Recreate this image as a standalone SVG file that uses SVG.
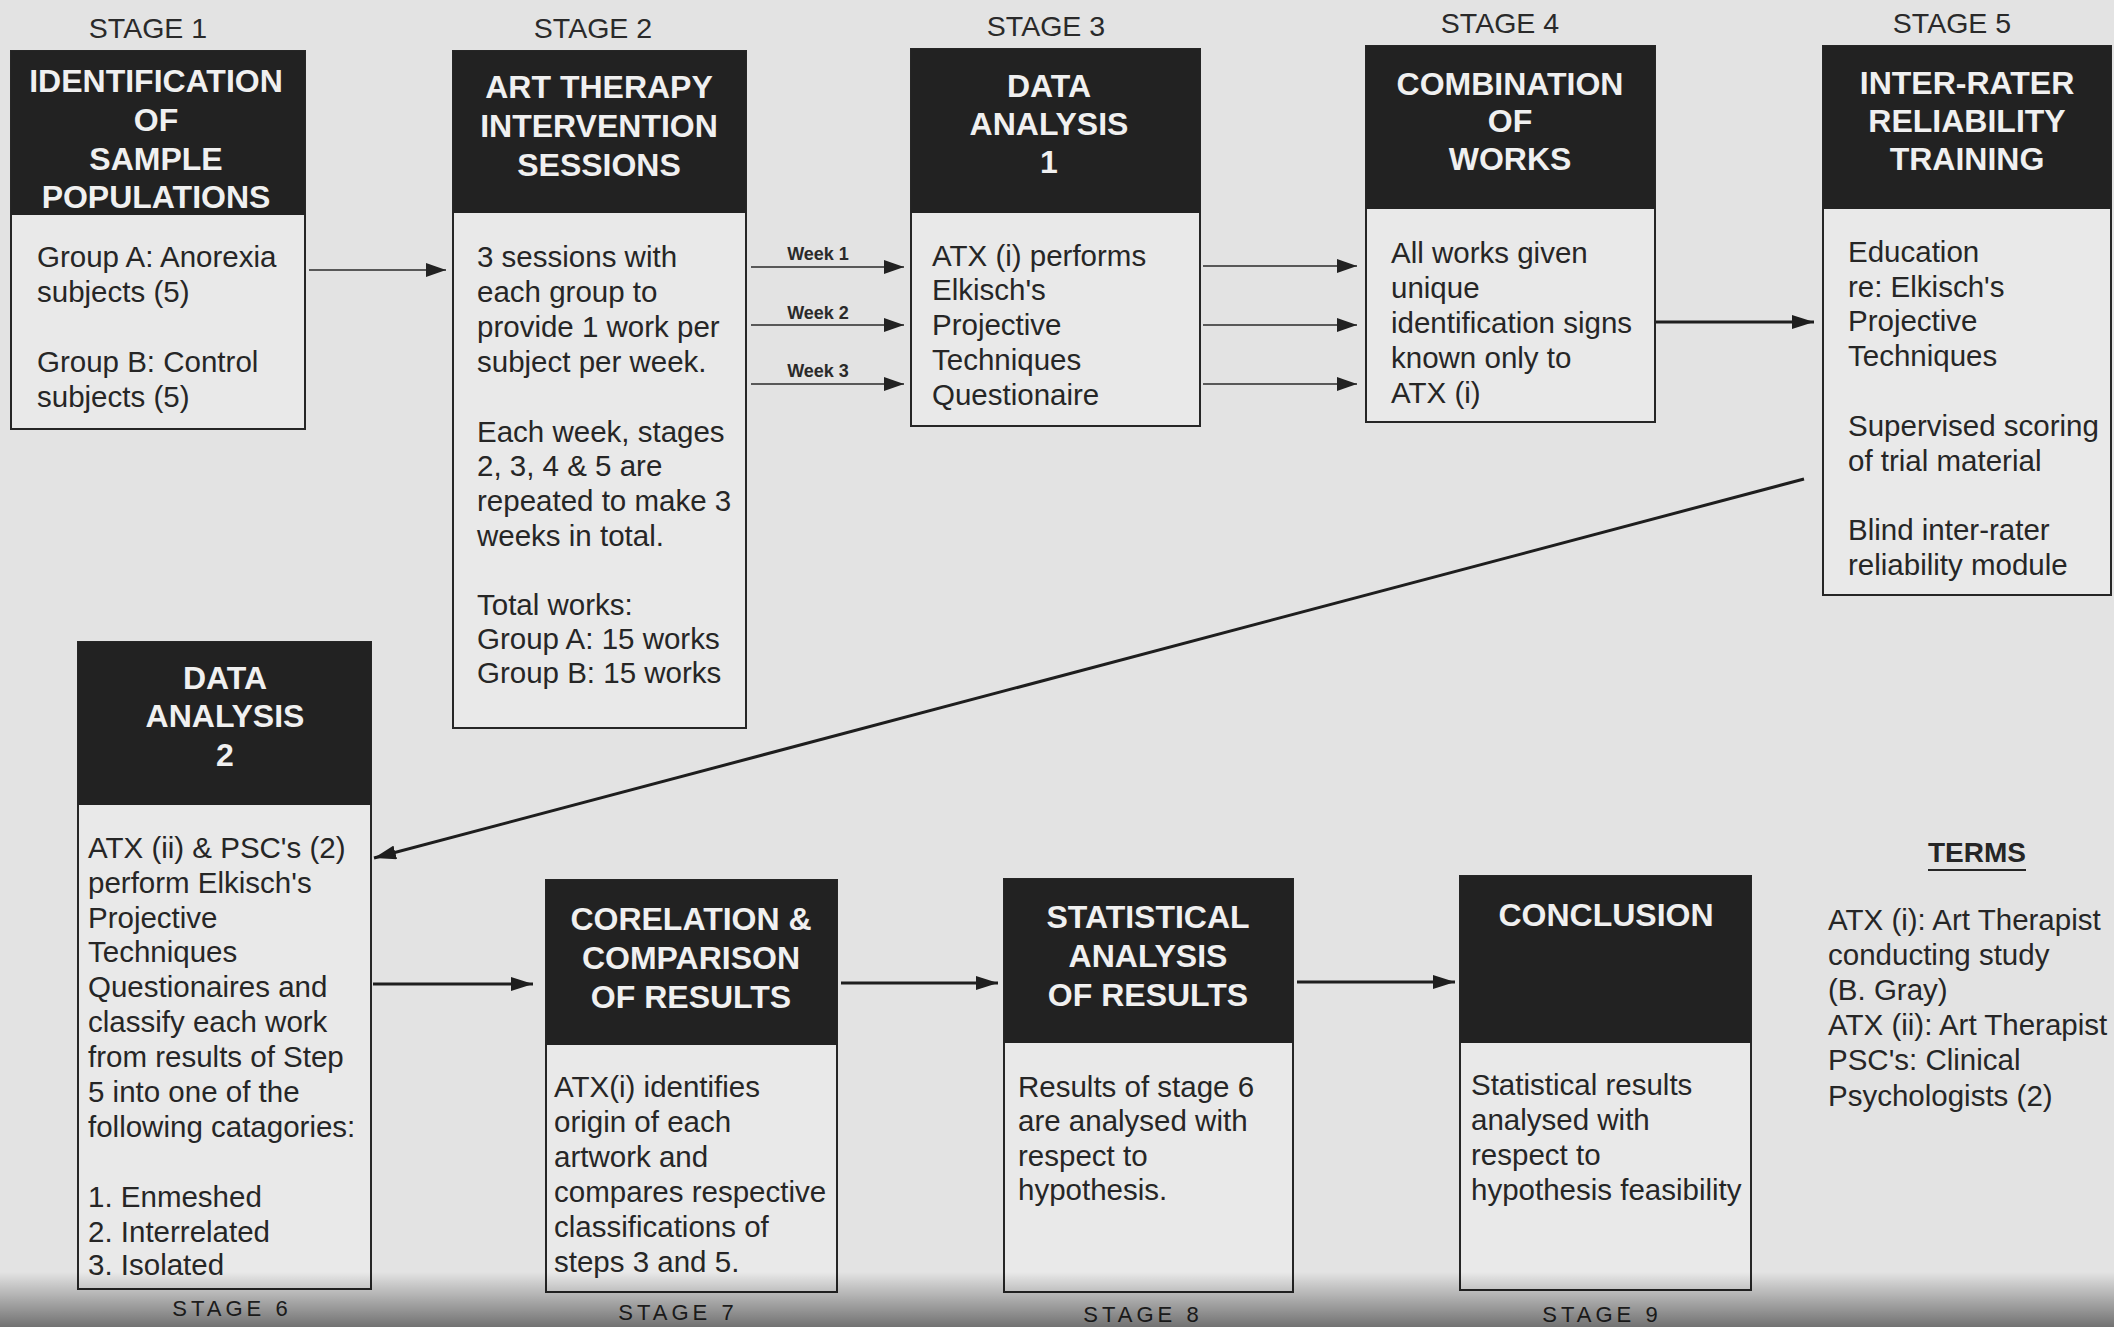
<svg xmlns="http://www.w3.org/2000/svg" width="2114" height="1327" viewBox="0 0 2114 1327">
<style>
.bg{fill:#e3e3e3}
.body{fill:#e9e9e9;stroke:#262626;stroke-width:2}
.head{fill:#222222}
.hd{font-family:"Liberation Sans",Arial,sans-serif;font-weight:bold;font-size:32px;fill:#f0f0f0;text-anchor:middle}
.b{font-family:"Liberation Sans",Arial,sans-serif;font-size:29.5px;fill:#262626}
.st{font-family:"Liberation Sans",Arial,sans-serif;font-size:28.5px;fill:#2a2a2a;text-anchor:middle}
.sb{font-family:"Liberation Sans",Arial,sans-serif;font-size:22px;letter-spacing:4px;fill:#2a2a2a;text-anchor:middle}
.wk{font-family:"Liberation Sans",Arial,sans-serif;font-weight:bold;font-size:18px;fill:#2a2a2a;text-anchor:middle}
.tt{font-family:"Liberation Sans",Arial,sans-serif;font-weight:bold;font-size:28px;fill:#262626;text-anchor:middle}
.thin{stroke:#2a2a2a;stroke-width:1.6;fill:none}
.thick{stroke:#1e1e1e;stroke-width:3;fill:none}
</style>
<defs>
<marker id="ahs" markerWidth="20" markerHeight="14" refX="20" refY="7" orient="auto" markerUnits="userSpaceOnUse"><path d="M0,0 L20,7 L0,14 z" fill="#222"/></marker>
<marker id="ahl" markerWidth="22" markerHeight="14" refX="22" refY="7" orient="auto" markerUnits="userSpaceOnUse"><path d="M0,0 L22,7 L0,14 z" fill="#1e1e1e"/></marker>
<linearGradient id="shade" x1="0" y1="0" x2="0" y2="1">
<stop offset="0" stop-color="#000" stop-opacity="0"/>
<stop offset="1" stop-color="#000" stop-opacity="0.5"/>
</linearGradient>
</defs>
<rect class="bg" x="0" y="0" width="2114" height="1327"/>

<g id="stage-labels">
<text class="st" x="148" y="38">STAGE 1</text>
<text class="st" x="593" y="38">STAGE 2</text>
<text class="st" x="1046" y="36">STAGE 3</text>
<text class="st" x="1500" y="33">STAGE 4</text>
<text class="st" x="1952" y="33">STAGE 5</text>
<text class="sb" x="232" y="1316">STAGE 6</text>
<text class="sb" x="678" y="1320">STAGE 7</text>
<text class="sb" x="1143" y="1322">STAGE 8</text>
<text class="sb" x="1602" y="1322">STAGE 9</text>
</g>

<g id="stage1">
<rect class="body" x="11" y="51" width="294" height="378"/>
<rect class="head" x="11" y="51" width="294" height="164"/>
<text class="hd" x="156" y="92">IDENTIFICATION</text>
<text class="hd" x="156" y="131">OF</text>
<text class="hd" x="156" y="170">SAMPLE</text>
<text class="hd" x="156" y="208">POPULATIONS</text>
<text class="b" x="37" y="267">Group A: Anorexia</text>
<text class="b" x="37" y="302">subjects (5)</text>
<text class="b" x="37" y="372">Group B: Control</text>
<text class="b" x="37" y="407">subjects (5)</text>
</g>

<g id="stage2">
<rect class="body" x="453" y="51" width="293" height="677"/>
<rect class="head" x="453" y="51" width="293" height="162"/>
<text class="hd" x="599" y="98">ART THERAPY</text>
<text class="hd" x="599" y="137">INTERVENTION</text>
<text class="hd" x="599" y="176">SESSIONS</text>
<text class="b" x="477" y="267">3 sessions with</text>
<text class="b" x="477" y="302">each group to</text>
<text class="b" x="477" y="337">provide 1 work per</text>
<text class="b" x="477" y="372">subject per week.</text>
<text class="b" x="477" y="442">Each week, stages</text>
<text class="b" x="477" y="476">2, 3, 4 &amp; 5 are</text>
<text class="b" x="477" y="511">repeated to make 3</text>
<text class="b" x="477" y="546">weeks in total.</text>
<text class="b" x="477" y="615">Total works:</text>
<text class="b" x="477" y="649">Group A: 15 works</text>
<text class="b" x="477" y="683">Group B: 15 works</text>
</g>

<g id="stage3">
<rect class="body" x="911" y="49" width="289" height="377"/>
<rect class="head" x="911" y="49" width="289" height="164"/>
<text class="hd" x="1049" y="97">DATA</text>
<text class="hd" x="1049" y="135">ANALYSIS</text>
<text class="hd" x="1049" y="173">1</text>
<text class="b" x="932" y="266">ATX (i) performs</text>
<text class="b" x="932" y="300">Elkisch's</text>
<text class="b" x="932" y="335">Projective</text>
<text class="b" x="932" y="370">Techniques</text>
<text class="b" x="932" y="405">Questionaire</text>
</g>

<g id="stage4">
<rect class="body" x="1366" y="46" width="289" height="376"/>
<rect class="head" x="1366" y="46" width="289" height="163"/>
<text class="hd" x="1510" y="95">COMBINATION</text>
<text class="hd" x="1510" y="132">OF</text>
<text class="hd" x="1510" y="170">WORKS</text>
<text class="b" x="1391" y="263">All works given</text>
<text class="b" x="1391" y="298">unique</text>
<text class="b" x="1391" y="333">identification signs</text>
<text class="b" x="1391" y="368">known only to</text>
<text class="b" x="1391" y="403">ATX (i)</text>
</g>

<g id="stage5">
<rect class="body" x="1823" y="46" width="288" height="549"/>
<rect class="head" x="1823" y="46" width="288" height="163"/>
<text class="hd" x="1967" y="94">INTER-RATER</text>
<text class="hd" x="1967" y="132">RELIABILITY</text>
<text class="hd" x="1967" y="170">TRAINING</text>
<text class="b" x="1848" y="262">Education</text>
<text class="b" x="1848" y="297">re: Elkisch's</text>
<text class="b" x="1848" y="331">Projective</text>
<text class="b" x="1848" y="366">Techniques</text>
<text class="b" x="1848" y="436">Supervised scoring</text>
<text class="b" x="1848" y="471">of trial material</text>
<text class="b" x="1848" y="540">Blind inter-rater</text>
<text class="b" x="1848" y="575">reliability module</text>
</g>

<g id="stage6">
<rect class="body" x="78" y="642" width="293" height="647"/>
<rect class="head" x="78" y="642" width="293" height="163"/>
<text class="hd" x="225" y="689">DATA</text>
<text class="hd" x="225" y="727">ANALYSIS</text>
<text class="hd" x="225" y="766">2</text>
<text class="b" x="88" y="858">ATX (ii) &amp; PSC's (2)</text>
<text class="b" x="88" y="893">perform Elkisch's</text>
<text class="b" x="88" y="928">Projective</text>
<text class="b" x="88" y="962">Techniques</text>
<text class="b" x="88" y="997">Questionaires and</text>
<text class="b" x="88" y="1032">classify each work</text>
<text class="b" x="88" y="1067">from results of Step</text>
<text class="b" x="88" y="1102">5 into one of the</text>
<text class="b" x="88" y="1137">following catagories:</text>
<text class="b" x="88" y="1207">1. Enmeshed</text>
<text class="b" x="88" y="1242">2. Interrelated</text>
<text class="b" x="88" y="1275">3. Isolated</text>
</g>

<g id="stage7">
<rect class="body" x="546" y="880" width="291" height="412"/>
<rect class="head" x="546" y="880" width="291" height="165"/>
<text class="hd" x="691" y="930">CORELATION &amp;</text>
<text class="hd" x="691" y="969">COMPARISON</text>
<text class="hd" x="691" y="1008">OF RESULTS</text>
<text class="b" x="554" y="1097">ATX(i) identifies</text>
<text class="b" x="554" y="1132">origin of each</text>
<text class="b" x="554" y="1167">artwork and</text>
<text class="b" x="554" y="1202">compares respective</text>
<text class="b" x="554" y="1237">classifications of</text>
<text class="b" x="554" y="1272">steps 3 and 5.</text>
</g>

<g id="stage8">
<rect class="body" x="1004" y="879" width="289" height="413"/>
<rect class="head" x="1004" y="879" width="289" height="164"/>
<text class="hd" x="1148" y="928">STATISTICAL</text>
<text class="hd" x="1148" y="967">ANALYSIS</text>
<text class="hd" x="1148" y="1006">OF RESULTS</text>
<text class="b" x="1018" y="1097">Results of stage 6</text>
<text class="b" x="1018" y="1131">are analysed with</text>
<text class="b" x="1018" y="1166">respect to</text>
<text class="b" x="1018" y="1200">hypothesis.</text>
</g>

<g id="stage9">
<rect class="body" x="1460" y="876" width="291" height="414"/>
<rect class="head" x="1460" y="876" width="291" height="167"/>
<text class="hd" x="1606" y="926">CONCLUSION</text>
<text class="b" x="1471" y="1095">Statistical results</text>
<text class="b" x="1471" y="1130">analysed with</text>
<text class="b" x="1471" y="1165">respect to</text>
<text class="b" x="1471" y="1200">hypothesis feasibility</text>
</g>

<g id="terms">
<text class="tt" x="1977" y="862">TERMS</text>
<line x1="1928" y1="870" x2="2026" y2="870" stroke="#262626" stroke-width="2"/>
<text class="b" x="1828" y="930">ATX (i): Art Therapist</text>
<text class="b" x="1828" y="965">conducting study</text>
<text class="b" x="1828" y="1000">(B. Gray)</text>
<text class="b" x="1828" y="1035">ATX (ii): Art Therapist</text>
<text class="b" x="1828" y="1070">PSC's: Clinical</text>
<text class="b" x="1828" y="1106">Psychologists (2)</text>
</g>

<g id="connectors">
<line class="thin" x1="309" y1="270" x2="446" y2="270" marker-end="url(#ahs)"/>
<line class="thin" x1="751" y1="267" x2="904" y2="267" marker-end="url(#ahs)"/>
<line class="thin" x1="751" y1="325" x2="904" y2="325" marker-end="url(#ahs)"/>
<line class="thin" x1="751" y1="384" x2="904" y2="384" marker-end="url(#ahs)"/>
<text class="wk" x="818" y="260">Week 1</text>
<text class="wk" x="818" y="319">Week 2</text>
<text class="wk" x="818" y="377">Week 3</text>
<line class="thin" x1="1203" y1="266" x2="1357" y2="266" marker-end="url(#ahs)"/>
<line class="thin" x1="1203" y1="325" x2="1357" y2="325" marker-end="url(#ahs)"/>
<line class="thin" x1="1203" y1="384" x2="1357" y2="384" marker-end="url(#ahs)"/>
<line class="thick" x1="1656" y1="322" x2="1814" y2="322" marker-end="url(#ahl)"/>
<line class="thick" x1="1804" y1="479" x2="374" y2="858" marker-end="url(#ahl)"/>
<line class="thick" x1="373" y1="984" x2="533" y2="984" marker-end="url(#ahl)"/>
<line class="thick" x1="841" y1="983" x2="998" y2="983" marker-end="url(#ahl)"/>
<line class="thick" x1="1297" y1="982" x2="1455" y2="982" marker-end="url(#ahl)"/>
</g>

<rect x="0" y="1272" width="2114" height="55" fill="url(#shade)"/>
</svg>
